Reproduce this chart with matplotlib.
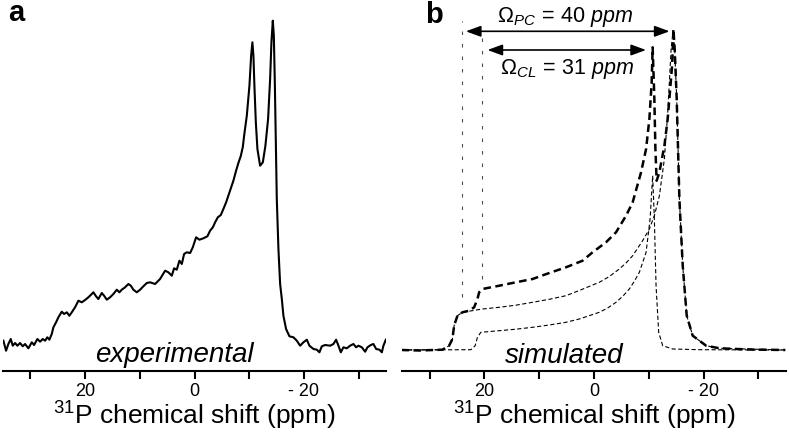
import numpy as np
import matplotlib.pyplot as plt

plt.rcParams['font.family'] = ['Liberation Sans', 'DejaVu Sans']
plt.rcParams['mathtext.fontset'] = 'custom'
plt.rcParams['mathtext.rm'] = 'Liberation Sans'
plt.rcParams['mathtext.it'] = 'Liberation Sans:italic'
plt.rcParams['lines.scale_dashes'] = False

# ---- данные (ppm, интенсивность в условных единицах) ----
tick_pos = [30, 20, 10, 0, -10, -20, -30]
tick_labels = ['', '20', '', '0', '', '- 20', '']

# эксперимент (панель a)
exp_ppm = [34.93, 34.44, 34.02, 33.58, 33.22, 32.79, 32.37, 31.88, 31.39, 30.97,
           30.36, 29.74, 29.32, 28.72, 28.22, 27.73, 27.31, 26.89, 26.52, 26.09,
           25.79, 25.30, 24.88, 24.26, 23.84, 23.34, 22.87, 22.43, 21.83, 21.22,
           20.60, 20.00, 19.40, 18.96, 18.48, 17.99, 17.57, 16.95, 16.53, 16.03,
           15.43, 14.83, 14.20, 13.73, 13.29, 12.69, 12.08, 11.64, 11.17, 10.55,
           9.94, 9.34, 8.72, 8.12, 7.20, 6.29, 5.37, 4.77, 4.15, 3.73,
           3.24, 2.76, 2.32, 1.90, 1.41, 0.80, 0.31, -0.29, -0.90, -1.63,
           -2.36, -2.85, -3.35, -3.77, -4.26, -4.81, -5.28, -5.78, -6.69, -7.11,
           -7.60, -8.02, -8.46, -8.83, -9.07, -9.56, -10.04, -10.35, -10.58, -10.77,
           -10.95, -11.21, -11.50, -11.99, -12.49, -12.96, -13.45, -13.82, -14.06, -14.31,
           -14.50, -14.68, -14.86, -15.04, -15.34, -15.65, -15.96, -16.25, -16.74, -17.35,
           -18.08, -18.70, -19.30, -19.91, -20.53, -21.00, -21.74, -22.36, -22.83, -23.27,
           -23.87, -24.79, -25.39, -25.88, -26.31, -26.74, -27.22, -27.84, -28.44, -29.05,
           -29.54, -29.96, -30.58, -31.19, -31.61, -32.23, -32.70, -33.20, -33.80, -34.24,
           -34.53, -34.97]
exp_int = [3.3, -6.7, 0, 5, -1.7, 1, -1.7, 1, -2.3, 0,
           -4.3, 1.7, -1, 5, 2.3, 5, 3.3, 6.7, 4.3, 10,
           16.7, 21.7, 26.7, 32.3, 30, 31.7, 28.3, 31.7, 36.7, 43.3,
           41.7, 44, 46.7, 49, 51.7, 47.7, 45, 51, 48.3, 44.3,
           46.7, 50, 54.3, 51.7, 54.3, 56.7, 60, 58.3, 54.3, 51.7,
           54.3, 57.7, 61, 61.7, 60, 65, 73.3, 71.7, 68.3, 75.7,
           74.3, 83.3, 80, 90, 91.7, 91, 96.7, 106.7, 104.3, 105.7,
           107.7, 113.3, 116.7, 121.7, 126.7, 129, 135, 141.7, 156.7, 163.3,
           173.3, 181, 188, 197, 208.3, 228.3, 258.3, 288.3, 301.7, 288.3,
           258.3, 221.7, 195, 178.3, 181.7, 198.3, 225, 265, 301.7, 323.3,
           308.3, 261.7, 205, 145, 95, 60, 45, 28.3, 15, 7.7,
           6.7, 3.3, -1.7, 1.7, 4.3, -1.7, -5, -5.7, -8.3, -2.3,
           -1, -1.7, 0, 4.3, -1.7, -8.3, -3.3, -4.3, -1.7, 0,
           -3.3, -1.7, -3.3, -7.7, -3.3, -1, 0, -5, -5.7, -8.3,
           -1.7, 4.3]

# симуляция (панель b): сумма
sum_ppm = [35.17, 31.94, 27.68, 26.45, 25.85, 25.54, 24.93, 24.02, 22.80, 21.88,
           21.28, 20.97, 20.36, 17.31, 14.26, 11.22, 8.17, 5.12, 2.08, 0.26,
           -2.19, -4.02, -5.85, -7.06, -8.59, -9.51, -10.11, -10.53, -10.71, -11.02,
           -11.21, -11.44, -11.94, -12.85, -13.45, -13.76, -14.26, -14.50, -14.73, -15.10,
           -15.59, -16.20, -16.93, -18.02, -20.47, -22.91, -28.39, -34.91]
sum_int = [0, -0.5, 0.3, 4.3, 11, 24.3, 34.3, 37.7, 39.3, 42.7,
           51, 57.7, 61, 64.3, 67.7, 71, 77, 82.7, 89.3, 97.7,
           107.7, 117.7, 134.3, 147.7, 177.7, 201, 231, 267.7, 302.7, 251,
           201, 169.3, 177.7, 204.3, 231, 251, 284.3, 321, 301, 251,
           151, 84.3, 34.3, 14.3, 4.3, 1.7, 0.5, 0]

# компонента PC (Ω = 40 ppm)
pc_ppm = [35.17, 27.68, 26.45, 25.85, 25.54, 24.93, 24.02, 20.36, 17.31, 14.26,
          11.22, 8.17, 5.12, 2.69, -0.97, -2.80, -4.62, -5.85, -7.06, -8.88,
          -10.11, -11.02, -11.94, -12.85, -13.45, -14.08, -14.45, -14.73, -15.10, -15.59,
          -16.20, -16.93, -18.02, -20.47, -22.91, -34.91]
pc_int = [0, 0.3, 4.3, 11, 24.3, 34.3, 37.7, 41, 42.7, 44.8,
          47.7, 50.7, 54.3, 59.5, 67.7, 73.5, 81, 87, 94.3, 109.3,
          121, 134.3, 154.3, 191, 236, 301, 319, 301, 251, 151,
          84.3, 34.3, 14.3, 4.3, 1.7, 0]

# компонента CL (Ω = 31 ppm)
cl_ppm = [35.17, 22.48, 21.70, 21.28, 20.66, 17.31, 14.26, 11.22, 8.17, 5.12,
          2.69, -0.97, -2.50, -4.02, -5.30, -6.45, -7.40, -8.28, -9.51, -10.24,
          -10.71, -11.02, -11.33, -11.81, -12.54, -14.37, -19.25, -34.91]
cl_int = [0, 0.3, 4.3, 12.7, 17.7, 19.3, 20.8, 22.7, 25, 27.7,
          31, 37.7, 42, 47.7, 54, 61, 69, 77.7, 97.7, 131,
          174.3, 131, 64.3, 17.7, 4.3, 1, 0.3, 0]

# края тензоров и стрелки
edge_pc, edge_cl = 24.13, 20.36
edge_pc_span = (53, 329)
edge_cl_span = (71, 313)
arrow_pc = (23.4, -13.8, 318.7)
arrow_cl = (19.45, -9.5, 300)

fig = plt.figure(figsize=(7.89, 4.35), dpi=100)
ax_a = fig.add_axes([3 / 789, 63 / 435, 383 / 789, 372 / 435])
ax_b = fig.add_axes([402.3 / 789, 63 / 435, 383.4 / 789, 372 / 435])


def style_axis(ax, ylo, yhi):
    ax.set_xlim(35, -35)
    ax.set_ylim(ylo, yhi)
    for s in ['top', 'left', 'right']:
        ax.spines[s].set_visible(False)
    ax.spines['bottom'].set_linewidth(1.5)
    ax.set_yticks([])
    ax.set_xticks(tick_pos)
    ax.set_xticklabels(tick_labels)
    ax.tick_params(axis='x', length=6, width=1.5, pad=2, labelsize=13)
    ax.set_xlabel(r'$^{31}$P chemical shift (ppm)', fontsize=19)
    ax.xaxis.label.set_va('baseline')
    ax.xaxis.set_label_coords(0.5, -(425 - 372) / 372)
    ax.patch.set_visible(False)


# панель a
ax_a.plot(exp_ppm, exp_int, color='black', lw=1.5, solid_joinstyle='round')
style_axis(ax_a, -27, 345)
ax_a.text(3.73, -17, 'experimental', style='italic', fontsize=20, ha='center', va='baseline')

# панель b
ax_b.plot(pc_ppm, pc_int, color='black', lw=0.8, dashes=(3, 1.8))
ax_b.plot(cl_ppm, cl_int, color='black', lw=0.8, dashes=(3, 1.8))
ax_b.plot(sum_ppm, sum_int, color='black', lw=1.8, dashes=(5.5, 3.2))
ax_b.plot([edge_pc, edge_pc], edge_pc_span, color='0.3', lw=0.8, dashes=(2.5, 6.5))
ax_b.plot([edge_cl, edge_cl], edge_cl_span, color='0.3', lw=0.8, dashes=(2.5, 6.5))
style_axis(ax_b, -21, 351)
ax_b.text(5.43, -12, 'simulated', style='italic', fontsize=20, ha='center', va='baseline')

for left, right, y in [arrow_pc, arrow_cl]:
    ax_b.annotate('', xy=(right, y), xytext=(left, y),
                  arrowprops=dict(arrowstyle='<|-|>,head_length=0.6,head_width=0.22',
                                  color='black', lw=1.2, mutation_scale=15,
                                  shrinkA=0, shrinkB=0))

ax_b.text(5.2, 334, r'$\Omega_{\mathit{PC}}\mathit{\,=\,40\ ppm}$', fontsize=15.5,
          ha='center', va='center')
ax_b.text(4.9, 282, r'$\Omega_{\mathit{CL}}\mathit{\,=\,31\ ppm}$', fontsize=15.5,
          ha='center', va='center')

fig.text(8 / 789, 1 - 21 / 435, 'a', fontsize=21, fontweight='bold', va='baseline')
fig.text(425 / 789, 1 - 23 / 435, 'b', fontsize=21, fontweight='bold', va='baseline')

fig.savefig('out.png', dpi=100)
